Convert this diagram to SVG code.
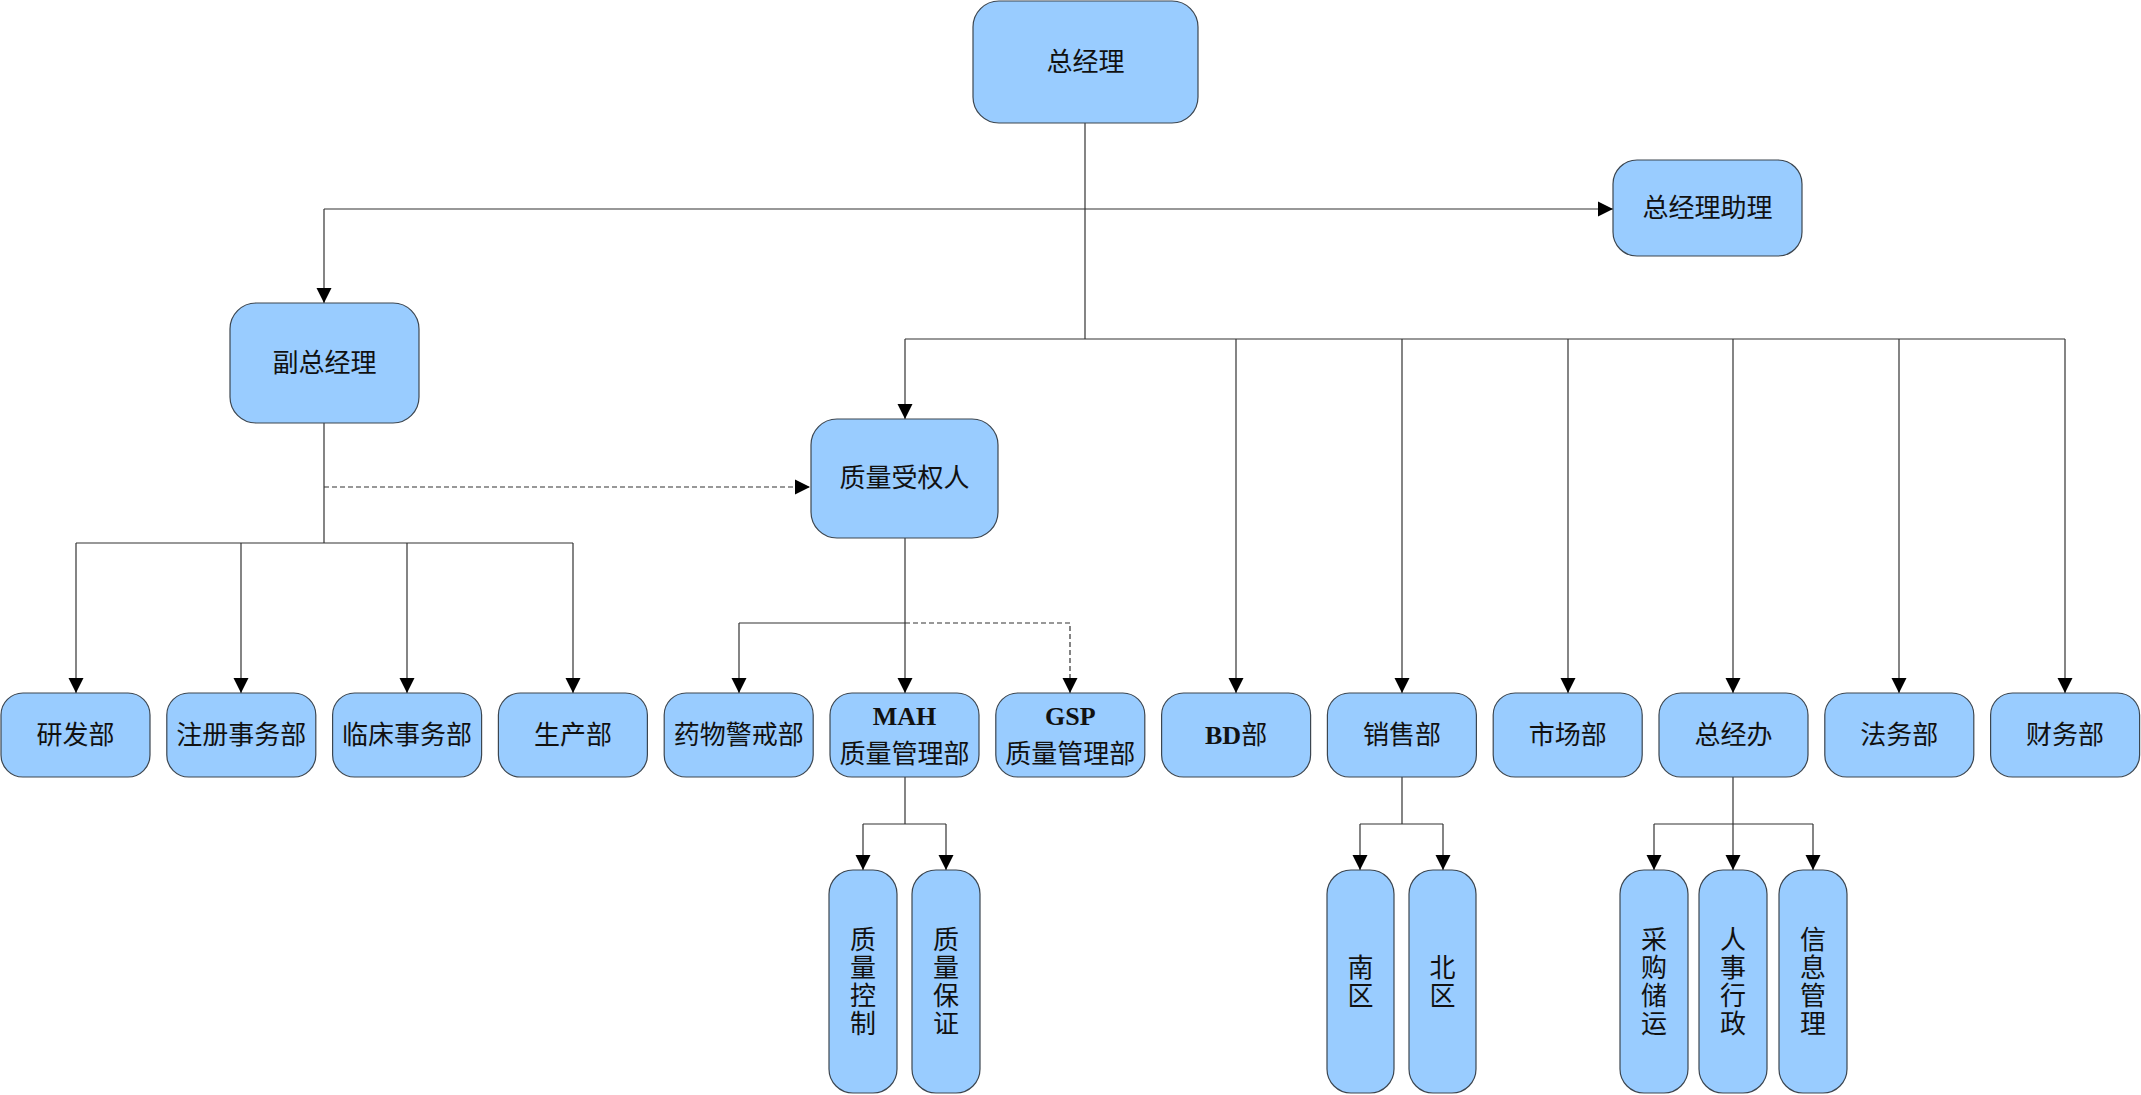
<svg xmlns="http://www.w3.org/2000/svg" width="2141" height="1095" viewBox="0 0 2141 1095">
<style>
.n{fill:#99ccff;stroke:#3c4650;stroke-width:1.2}
.t{font-family:"Liberation Serif","Noto Sans CJK SC",serif;font-size:26px;fill:#111;text-anchor:middle;dominant-baseline:central}
.b{font-weight:bold}
.c{fill:none;stroke:#333;stroke-width:1.2}
.d{stroke-dasharray:5 3}
</style>
<defs>
<marker id="a" markerUnits="userSpaceOnUse" viewBox="0 0 15 16" refX="15" refY="8" markerWidth="15" markerHeight="16" orient="auto">
<path d="M0,0.5 L15,8 L0,15.5 Z" fill="#000"/>
</marker>
</defs>
<g id="connectors">
<path class="c" d="M1085,123 V339"/>
<path class="c" d="M324,209 H1613" marker-end="url(#a)"/>
<path class="c" d="M324,209 V303" marker-end="url(#a)"/>
<path class="c" d="M905,339 H2065"/>
<path class="c" d="M905,339 V419" marker-end="url(#a)"/>
<path class="c" d="M1236,339 V693" marker-end="url(#a)"/>
<path class="c" d="M1402,339 V693" marker-end="url(#a)"/>
<path class="c" d="M1568,339 V693" marker-end="url(#a)"/>
<path class="c" d="M1733,339 V693" marker-end="url(#a)"/>
<path class="c" d="M1899,339 V693" marker-end="url(#a)"/>
<path class="c" d="M2065,339 V693" marker-end="url(#a)"/>
<path class="c" d="M324,423 V543"/>
<path class="c d" d="M324,487 H810" marker-end="url(#a)"/>
<path class="c" d="M76,543 H573"/>
<path class="c" d="M76,543 V693" marker-end="url(#a)"/>
<path class="c" d="M241,543 V693" marker-end="url(#a)"/>
<path class="c" d="M407,543 V693" marker-end="url(#a)"/>
<path class="c" d="M573,543 V693" marker-end="url(#a)"/>
<path class="c" d="M905,538 V693" marker-end="url(#a)"/>
<path class="c" d="M739,623 H905"/>
<path class="c" d="M739,623 V693" marker-end="url(#a)"/>
<path class="c d" d="M905,623 H1070 V693" marker-end="url(#a)"/>
<path class="c" d="M905,777 V824"/>
<path class="c" d="M863,824 H946"/>
<path class="c" d="M863,824 V870" marker-end="url(#a)"/>
<path class="c" d="M946,824 V870" marker-end="url(#a)"/>
<path class="c" d="M1402,777 V824"/>
<path class="c" d="M1360,824 H1443"/>
<path class="c" d="M1360,824 V870" marker-end="url(#a)"/>
<path class="c" d="M1443,824 V870" marker-end="url(#a)"/>
<path class="c" d="M1733,777 V870" marker-end="url(#a)"/>
<path class="c" d="M1654,824 H1813"/>
<path class="c" d="M1654,824 V870" marker-end="url(#a)"/>
<path class="c" d="M1813,824 V870" marker-end="url(#a)"/>
</g>
<g id="gm"><rect class="n" x="973" y="1" width="225" height="122" rx="26"/><text class="t" x="1085.5" y="62">总经理</text></g>
<g id="gma"><rect class="n" x="1613" y="160" width="189" height="96" rx="24"/><text class="t" x="1707.5" y="208">总经理助理</text></g>
<g id="dgm"><rect class="n" x="230" y="303" width="189" height="120" rx="26"/><text class="t" x="324.5" y="363">副总经理</text></g>
<g id="qp"><rect class="n" x="811" y="419" width="187" height="119" rx="26"/><text class="t" x="904.5" y="478.5">质量受权人</text></g>
<g id="rd"><rect class="n" x="1" y="693" width="149" height="84" rx="22"/><text class="t" x="75.5" y="735">研发部</text></g>
<g id="reg"><rect class="n" x="166.8" y="693" width="149" height="84" rx="22"/><text class="t" x="241.3" y="735">注册事务部</text></g>
<g id="clin"><rect class="n" x="332.6" y="693" width="149" height="84" rx="22"/><text class="t" x="407.1" y="735">临床事务部</text></g>
<g id="prod"><rect class="n" x="498.4" y="693" width="149" height="84" rx="22"/><text class="t" x="572.9" y="735">生产部</text></g>
<g id="pv"><rect class="n" x="664.2" y="693" width="149" height="84" rx="22"/><text class="t" x="738.7" y="735">药物警戒部</text></g>
<g id="mah"><rect class="n" x="830" y="693" width="149" height="84" rx="22"/><text class="t b" x="904.5" y="716">MAH</text><text class="t" x="904.5" y="754">质量管理部</text></g>
<g id="gsp"><rect class="n" x="995.8" y="693" width="149" height="84" rx="22"/><text class="t b" x="1070.3" y="716">GSP</text><text class="t" x="1070.3" y="754">质量管理部</text></g>
<g id="bd"><rect class="n" x="1161.6" y="693" width="149" height="84" rx="22"/><text class="t" x="1236.1" y="735"><tspan class="b">BD</tspan>部</text></g>
<g id="sales"><rect class="n" x="1327.4" y="693" width="149" height="84" rx="22"/><text class="t" x="1401.9" y="735">销售部</text></g>
<g id="mkt"><rect class="n" x="1493.2" y="693" width="149" height="84" rx="22"/><text class="t" x="1567.7" y="735">市场部</text></g>
<g id="gmo"><rect class="n" x="1659" y="693" width="149" height="84" rx="22"/><text class="t" x="1733.5" y="735">总经办</text></g>
<g id="legal"><rect class="n" x="1824.8" y="693" width="149" height="84" rx="22"/><text class="t" x="1899.3" y="735">法务部</text></g>
<g id="fin"><rect class="n" x="1990.6" y="693" width="149" height="84" rx="22"/><text class="t" x="2065.1" y="735">财务部</text></g>
<g id="qc"><rect class="n" x="829" y="870" width="68" height="223" rx="24"/><text class="t" x="863" y="940">质</text><text class="t" x="863" y="968">量</text><text class="t" x="863" y="996">控</text><text class="t" x="863" y="1024">制</text></g>
<g id="qa"><rect class="n" x="912" y="870" width="68" height="223" rx="24"/><text class="t" x="946" y="940">质</text><text class="t" x="946" y="968">量</text><text class="t" x="946" y="996">保</text><text class="t" x="946" y="1024">证</text></g>
<g id="south"><rect class="n" x="1327" y="870" width="67" height="223" rx="24"/><text class="t" x="1360.5" y="968">南</text><text class="t" x="1360.5" y="996">区</text></g>
<g id="north"><rect class="n" x="1409" y="870" width="67" height="223" rx="24"/><text class="t" x="1442.5" y="968">北</text><text class="t" x="1442.5" y="996">区</text></g>
<g id="pur"><rect class="n" x="1620" y="870" width="68" height="223" rx="24"/><text class="t" x="1654" y="940">采</text><text class="t" x="1654" y="968">购</text><text class="t" x="1654" y="996">储</text><text class="t" x="1654" y="1024">运</text></g>
<g id="hr"><rect class="n" x="1699" y="870" width="68" height="223" rx="24"/><text class="t" x="1733" y="940">人</text><text class="t" x="1733" y="968">事</text><text class="t" x="1733" y="996">行</text><text class="t" x="1733" y="1024">政</text></g>
<g id="it"><rect class="n" x="1779" y="870" width="68" height="223" rx="24"/><text class="t" x="1813" y="940">信</text><text class="t" x="1813" y="968">息</text><text class="t" x="1813" y="996">管</text><text class="t" x="1813" y="1024">理</text></g>
</svg>
